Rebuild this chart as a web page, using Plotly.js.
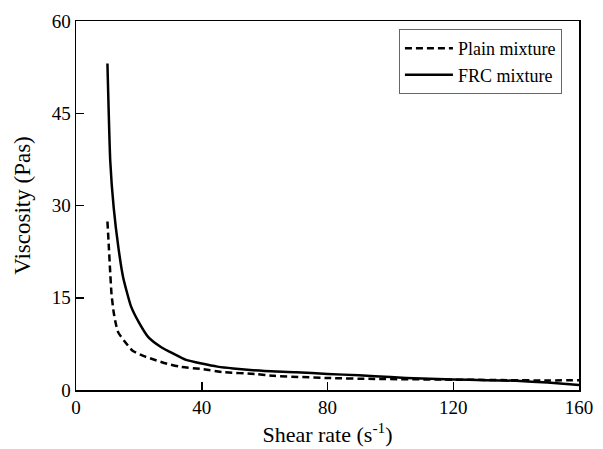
<!DOCTYPE html>
<html>
<head>
<meta charset="utf-8">
<script src="https://cdn.plot.ly/plotly-3.0.1.min.js"></script>
<style>html,body{margin:0;padding:0;background:#fff;}#chart{width:603px;height:449px;}</style>
</head>
<body>
<div id="chart"></div>
<script>
const plainX = [10, 10.4, 10.8, 11.3, 12, 12.7, 13.5, 15.3, 18, 21.6, 24.5, 28, 33, 40, 47, 57, 63, 80, 95, 117, 138, 149, 160];
const plainY = [27.4, 23.7, 19.9, 15.6, 12.6, 10.7, 9.3, 8.0, 6.4, 5.5, 5.0, 4.4, 3.8, 3.4, 2.9, 2.6, 2.3, 1.95, 1.8, 1.7, 1.6, 1.55, 1.6];
const frcX = [10, 10.9, 12, 13.5, 15, 17.5, 20, 23, 27, 31, 35, 40, 45, 50, 60, 70, 80, 90, 100, 110, 120, 130, 140, 150, 160];
const frcY = [53.1, 37.2, 29.6, 23.1, 18.3, 13.6, 11.0, 8.6, 7.0, 5.9, 4.9, 4.3, 3.8, 3.5, 3.1, 2.9, 2.6, 2.4, 2.1, 1.85, 1.7, 1.6, 1.5, 1.2, 0.8];
const xTicks = [0, 40, 80, 120, 160];
const yTicks = [0, 15, 30, 45, 60];

const font = 'Liberation Serif';
const traces = [
  {x: plainX, y: plainY, mode: 'lines', name: 'Plain mixture',
   line: {color: '#000', width: 2.5, dash: '7px,4px', shape: 'spline', smoothing: 0.5}},
  {x: frcX, y: frcY, mode: 'lines', name: 'FRC mixture',
   line: {color: '#000', width: 2.5, shape: 'spline', smoothing: 0.5}}
];
const axisCommon = {
  showgrid: false, zeroline: false, showline: true, linecolor: '#000', linewidth: 1.5,
  mirror: true, ticks: 'inside', ticklen: 8, tickwidth: 1.5, tickcolor: '#000',
  tickfont: {family: font, size: 19, color: '#000'}
};
const layout = {
  width: 603, height: 449,
  margin: {l: 76, r: 24, t: 21, b: 59},
  paper_bgcolor: '#fff', plot_bgcolor: '#fff',
  font: {family: font, color: '#000'},
  xaxis: Object.assign({}, axisCommon, {
    range: [0, 160], tickvals: xTicks, ticktext: xTicks.map(String),
    title: {text: 'Shear rate (s<sup>-1</sup>)', font: {family: font, size: 22, color: '#000'}, standoff: 9}
  }),
  yaxis: Object.assign({}, axisCommon, {
    range: [0, 60], tickvals: yTicks, ticktext: yTicks.map(String),
    title: {text: 'Viscosity (Pas)', font: {family: font, size: 23, color: '#000'}, standoff: 14}
  }),
  showlegend: true,
  legend: {
    x: 0.642, y: 0.978, xanchor: 'left', yanchor: 'top',
    bgcolor: '#fff', bordercolor: '#666', borderwidth: 1,
    font: {family: font, size: 18, color: '#000'},
    itemwidth: 48,
    tracegroupgap: 0
  }
};
Plotly.newPlot('chart', traces, layout, {staticPlot: true, displayModeBar: false});
</script>
</body>
</html>
